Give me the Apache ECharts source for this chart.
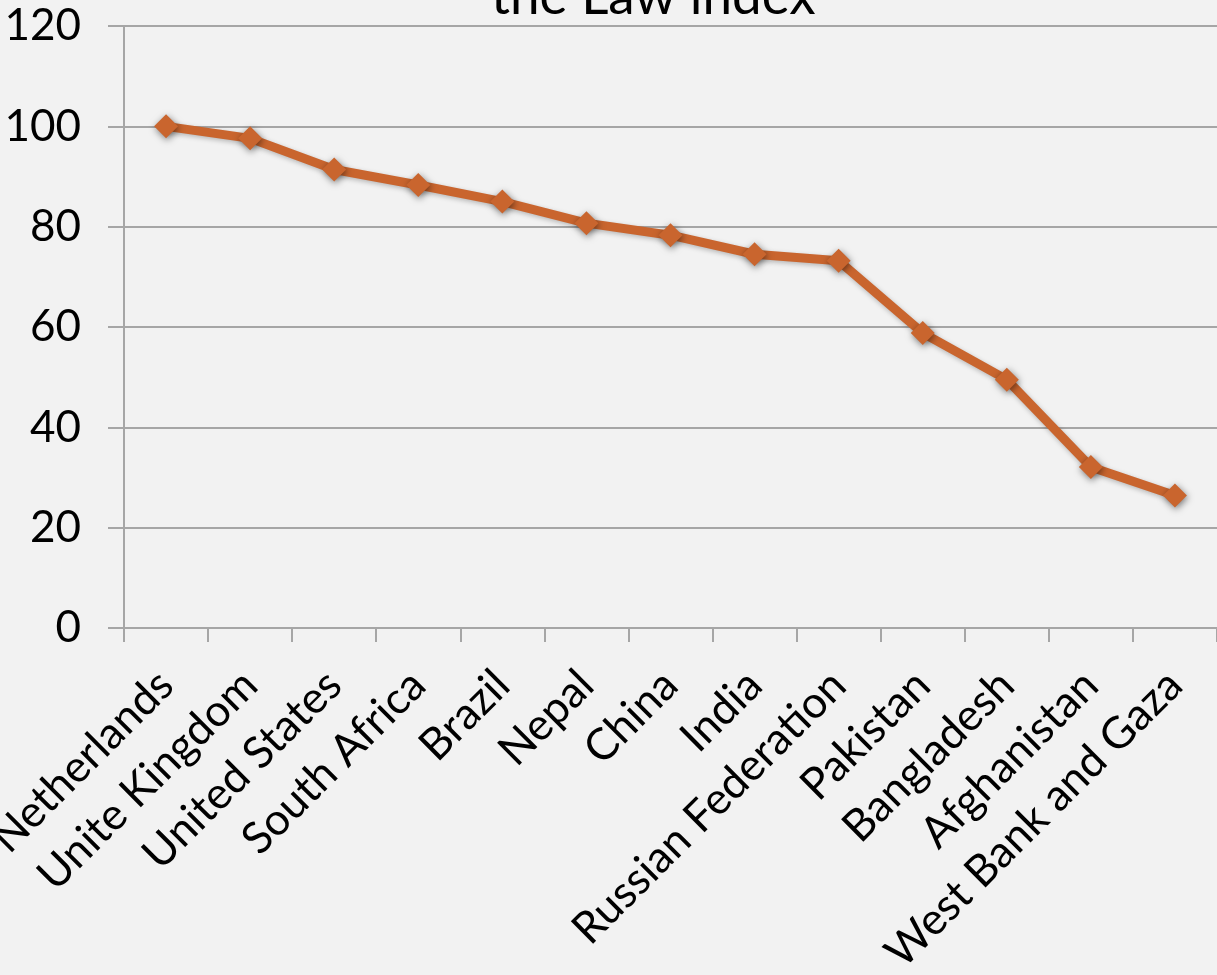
<!DOCTYPE html>
<html>
<head>
<meta charset="utf-8">
<script src="https://cdn.jsdelivr.net/npm/echarts@6/dist/echarts.min.js"></script>
<style>
  html, body { margin: 0; padding: 0; background: #f2f2f2; }
  #chart { width: 1217px; height: 975px; }
</style>
</head>
<body>
<div id="chart"></div>
<script>
// 国家（横轴类目）
const countries = [
  'Netherlands', 'Unite Kingdom', 'United States', 'South Africa', 'Brazil',
  'Nepal', 'China', 'India', 'Russian Federation', 'Pakistan',
  'Bangladesh', 'Afghanistan', 'West Bank and Gaza'
]
// 指数值
const indexValues = [100, 97.6, 91.4, 88.3, 85.0, 80.7, 78.3, 74.5, 73.2, 58.8, 49.5, 32.1, 26.4]
// 纵轴刻度
const yMin = 0
const yMax = 120
const yStep = 20

const titleText = 'the Law index'

const lineColor = '#c9652e'
const gridColor = '#a6a6a6'
const fontFamily = 'Lato, "Open Sans", sans-serif'

const chart = echarts.init(document.getElementById('chart'))

const option = {
  backgroundColor: '#f2f2f2',
  animation: false,
  title: {
    text: titleText,
    left: 486,
    top: -35,
    textStyle: { fontFamily, fontSize: 53, fontWeight: 'normal', color: '#000', lineHeight: 53 }
  },
  // v6 默认会把标签收进容器，这里关掉，保持绘图区位置固定
  grid: { left: 124, right: 0, top: 26, bottom: 347, containLabel: false, outerBoundsMode: 'none' },
  xAxis: {
    type: 'category',
    data: countries,
    boundaryGap: true,
    axisLine: { lineStyle: { color: gridColor, width: 2 } },
    axisTick: { show: true, length: 14, lineStyle: { color: gridColor, width: 2 } },
    axisLabel: {
      interval: 0,
      rotate: 45,
      margin: 50,
      color: '#000',
      fontFamily,
      fontSize: 44
    }
  },
  yAxis: {
    type: 'value',
    min: yMin,
    max: yMax,
    interval: yStep,
    axisLine: { show: true, lineStyle: { color: gridColor, width: 2 } },
    axisTick: { show: true, length: 16, lineStyle: { color: gridColor, width: 2 } },
    splitLine: { lineStyle: { color: gridColor, width: 2 } },
    axisLabel: { margin: 43, color: '#000', fontFamily, fontSize: 44 }
  },
  series: [{
    type: 'line',
    data: indexValues,
    symbol: 'diamond',
    symbolSize: 24,
    lineStyle: {
      color: lineColor, width: 9,
      shadowColor: 'rgba(0,0,0,0.25)', shadowBlur: 5, shadowOffsetX: 1, shadowOffsetY: 2
    },
    itemStyle: {
      color: lineColor,
      shadowColor: 'rgba(0,0,0,0.5)', shadowBlur: 7, shadowOffsetX: 1, shadowOffsetY: 2
    }
  }]
}

chart.setOption(option)
</script>
</body>
</html>
